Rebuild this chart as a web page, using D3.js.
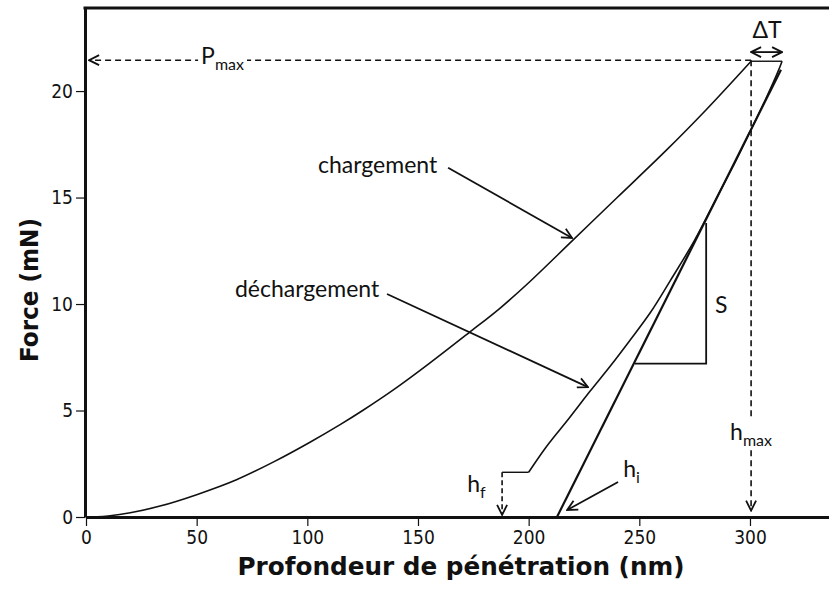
<!DOCTYPE html>
<html><head><meta charset="utf-8">
<script src="https://cdn.jsdelivr.net/npm/d3@7/dist/d3.min.js"></script>
<style>
body{margin:0;background:#fff;}
svg{display:block;}
.ann{font-family:Lato,"Open Sans",sans-serif;font-size:23px;fill:#111;}
.tick text{font-family:"DejaVu Sans Condensed","DejaVu Sans",sans-serif;font-size:19px;fill:#111;}
.title{font-family:"DejaVu Sans Condensed","DejaVu Sans",sans-serif;font-size:25px;font-weight:bold;fill:#111;}
</style></head>
<body>
<svg id="c" width="829" height="596"></svg>
<script>
// ---- data (nm, mN) ----
const loadingDepth = [0, 5, 10, 20, 33, 50, 68, 85, 101, 115, 125, 140, 155, 173, 187, 200, 220, 240, 262, 280, 300.5];
const loadingForce = [0, 0.01, 0.05, 0.2, 0.5, 1.05, 1.75, 2.6, 3.5, 4.35, 5.0, 6.05, 7.2, 8.65, 9.8, 11.0, 13.0, 15.0, 17.2, 19.1, 21.4];
const holdDepth = [300.5, 314.5];
const holdForce = [21.4, 21.4];
const unloadDepth = [314.5, 312.6, 307, 301, 293, 285, 275, 264, 255, 245.8, 237, 227.7, 218, 208, 200, 188];
const unloadForce = [21.4, 20.9, 19.6, 18.3, 16.6, 15.0, 13.0, 11.1, 9.6, 8.3, 7.1, 5.9, 4.6, 3.3, 2.1, 2.1];
const tangentDepth = [212.8, 314];
const tangentForce = [0, 21.0];
const slopeDepth = [248, 280.2, 280.2];
const slopeForce = [7.2, 7.2, 13.8];
const Pmax = 21.45, hmax = 300.5, hf = 188, hi = 212.8;
const xMajorTicks = [0, 50, 100, 150, 200, 250, 300];
const yMajorTicks = [0, 5, 10, 15, 20];
const xTitle = "Profondeur de pénétration (nm)";
const yTitle = "Force (mN)";

// ---- scales ----
const svg = d3.select("#c");
const x = d3.scaleLinear().domain([0, 335.7]).range([86, 829]);
const y = d3.scaleLinear().domain([0, 23.9]).range([517, 8]);

// markers
const defs = svg.append("defs");
defs.append("marker").attr("id","ah").attr("viewBox","0 -6 12 12")
  .attr("refX",11).attr("refY",0).attr("markerWidth",12).attr("markerHeight",12)
  .attr("markerUnits","userSpaceOnUse").attr("orient","auto-start-reverse")
  .append("path").attr("d","M1,-5L11,0L1,5").attr("fill","none").attr("stroke","#111").attr("stroke-width",1.8);

// ---- axes ----
const xMinor = d3.range(0, 336, 10);
const yMinor = d3.range(0, 24, 1);
const gx = svg.append("g").attr("transform",`translate(0,${y(0)})`);
gx.call(d3.axisBottom(x).tickValues(xMinor).tickFormat("").tickSize(7).tickSizeOuter(0));
gx.call(d3.axisBottom(x).tickValues(xMajorTicks).tickFormat(d3.format("d")).tickSize(9).tickSizeOuter(0).tickPadding(5));
gx.selectAll(".tick line").attr("stroke","#111").attr("stroke-width",1.2);
gx.selectAll(".domain").attr("stroke","#111").attr("stroke-width",3);

const gy = svg.append("g").attr("transform",`translate(${x(0)-1},0)`);
gy.call(d3.axisLeft(y).tickValues(yMinor).tickFormat("").tickSize(7).tickSizeOuter(0));
gy.call(d3.axisLeft(y).tickValues(yMajorTicks).tickFormat(d3.format("d")).tickSize(9).tickSizeOuter(0).tickPadding(3));
gy.selectAll(".tick line").attr("stroke","#111").attr("stroke-width",1.2);
gy.selectAll(".domain").attr("stroke","#111").attr("stroke-width",3);
// top frame line
svg.append("line").attr("x1",x(0)-2.5).attr("x2",829).attr("y1",y(23.9)).attr("y2",y(23.9))
  .attr("stroke","#111").attr("stroke-width",3);

svg.append("text").attr("class","title").attr("x",461).attr("y",575).attr("text-anchor","middle")
  .attr("textLength",447).attr("lengthAdjust","spacingAndGlyphs").text(xTitle);
svg.append("text").attr("class","title").attr("transform","translate(38,290) rotate(-90)").attr("text-anchor","middle")
  .attr("textLength",144).attr("lengthAdjust","spacingAndGlyphs").text(yTitle);

// ---- curves ----
const line = d3.line().x(d=>x(d[0])).y(d=>y(d[1]));
const zip = (a,b)=>a.map((v,i)=>[v,b[i]]);
const smooth = d3.line().x(d=>x(d[0])).y(d=>y(d[1])).curve(d3.curveCatmullRom.alpha(0.5));
svg.append("path").attr("d",smooth(zip(loadingDepth,loadingForce))).attr("fill","none").attr("stroke","#111").attr("stroke-width",1.6);
svg.append("path").attr("d",line(zip(holdDepth,holdForce))).attr("fill","none").attr("stroke","#111").attr("stroke-width",1.4);
svg.append("path").attr("d",smooth(zip(unloadDepth.slice(0,-1),unloadForce.slice(0,-1)))).attr("fill","none").attr("stroke","#111").attr("stroke-width",1.6);
svg.append("path").attr("d",line(zip(unloadDepth.slice(-2),unloadForce.slice(-2)))).attr("fill","none").attr("stroke","#111").attr("stroke-width",1.4);
svg.append("path").attr("d",line(zip(tangentDepth,tangentForce))).attr("fill","none").attr("stroke","#111").attr("stroke-width",2.2);
svg.append("path").attr("d",line(zip(slopeDepth,slopeForce))).attr("fill","none").attr("stroke","#111").attr("stroke-width",1.8);

// ---- dashed annotations ----
const dash = "6,4";
svg.append("line").attr("x1",x(hmax)).attr("y1",y(Pmax)).attr("x2",x(1.4)).attr("y2",y(Pmax))
  .attr("stroke","#111").attr("stroke-width",1.6).attr("stroke-dasharray",dash).attr("marker-end","url(#ah)");
svg.append("line").attr("x1",x(hmax)).attr("y1",y(Pmax)).attr("x2",x(hmax)).attr("y2",y(0.3))
  .attr("stroke","#111").attr("stroke-width",1.6).attr("stroke-dasharray",dash).attr("marker-end","url(#ah)");
svg.append("line").attr("x1",x(hf)).attr("y1",y(2.1)).attr("x2",x(hf)).attr("y2",y(0.1))
  .attr("stroke","#111").attr("stroke-width",1.6).attr("stroke-dasharray","5,3").attr("marker-end","url(#ah)");

// ΔT double arrow
svg.append("line").attr("x1",x(300.5)).attr("y1",y(21.83)).attr("x2",x(314.5)).attr("y2",y(21.83))
  .attr("stroke","#111").attr("stroke-width",1.8).attr("marker-start","url(#ah)").attr("marker-end","url(#ah)");

// solid arrows
const arrows = [
  [[163.6,16.4],[219.6,13.1]],
  [[136,10.47],[226.8,6.1]],
  [[240.4,1.64],[217.4,0.33]]
];
arrows.forEach(a=>{
  svg.append("line").attr("x1",x(a[0][0])).attr("y1",y(a[0][1])).attr("x2",x(a[1][0])).attr("y2",y(a[1][1]))
    .attr("stroke","#111").attr("stroke-width",1.8).attr("marker-end","url(#ah)");
});

// ---- labels ----
function sub(px, py, main, subs, withBg){
  const g = svg.append("g");
  const t = g.append("text").attr("class","ann").attr("x",x(px)).attr("y",y(py));
  t.append("tspan").text(main);
  t.append("tspan").attr("dy",6).attr("font-size","16px").text(subs);
  if(withBg){
    const bb = t.node().getBBox();
    g.insert("rect","text").attr("x",bb.x-3).attr("y",bb.y).attr("width",bb.width+6).attr("height",bb.height).attr("fill","#fff");
  }
}
sub(52, 21.25, "P", "max", true);
sub(291, 3.6, "h", "max", true);
sub(172.2, 1.17, "h", "f", false);
sub(242.7, 1.88, "h", "i", false);
svg.append("text").attr("class","ann").attr("x",x(104.8)).attr("y",y(16.15)).text("chargement");
svg.append("text").attr("class","ann").attr("x",x(67.3)).attr("y",y(10.33)).text("déchargement");
svg.append("text").attr("class","ann").attr("x",x(284.2)).attr("y",y(9.58)).text("S");
svg.append("text").attr("class","ann").attr("x",x(307.7)).attr("y",y(22.5)).attr("text-anchor","middle").text("ΔT");
</script>
</body></html>
